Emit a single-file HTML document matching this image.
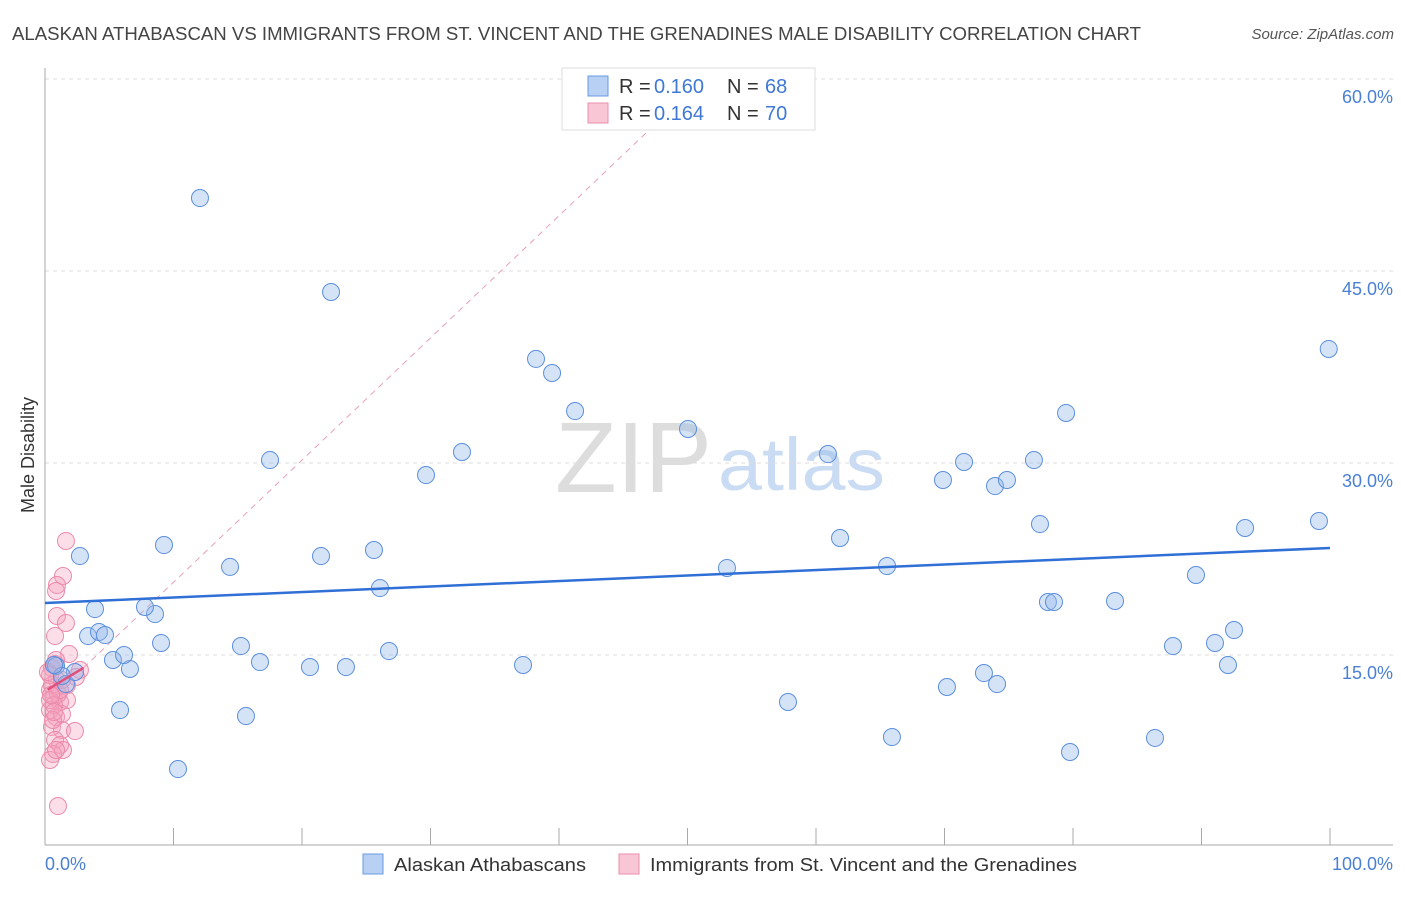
<!DOCTYPE html>
<html><head><meta charset="utf-8"><style>
body{margin:0;background:#fff;font-family:"Liberation Sans",sans-serif}
svg text{font-family:"Liberation Sans",sans-serif}
</style></head><body>
<svg id="chart" width="1406" height="892">
<text x="12" y="40" font-size="18" fill="#444" textLength="1129" lengthAdjust="spacingAndGlyphs">ALASKAN ATHABASCAN VS IMMIGRANTS FROM ST. VINCENT AND THE GRENADINES MALE DISABILITY CORRELATION CHART</text>
<text x="1394" y="39" font-size="15" fill="#555" font-style="italic" text-anchor="end">Source: ZipAtlas.com</text>
<g>
<text x="555" y="492" font-size="100" fill="#ddd" font-family="Liberation Serif" textLength="157" lengthAdjust="spacingAndGlyphs">ZIP</text>
<text x="718" y="490" font-size="74" fill="#c9dcf3" textLength="167" lengthAdjust="spacingAndGlyphs">atlas</text>
</g>
<g id="grid"></g><g id="axes"></g><g id="marks"></g>
<text x="34" y="455" font-size="18" fill="#333" transform="rotate(-90 34 455)" text-anchor="middle">Male Disability</text>
<g>
<rect x="562" y="68" width="253" height="62" fill="#fff" stroke="#ddd"/>
<rect x="588" y="76" width="20" height="20" fill="#b7d0f4" stroke="#6a9ae0"/>
<rect x="588" y="103" width="20" height="20" fill="#f9c6d6" stroke="#ea8fae"/>
<text x="619" y="93" font-size="20" fill="#333">R =</text><text x="654" y="93" font-size="20" fill="#3f78d6">0.160</text>
<text x="727" y="93" font-size="20" fill="#333">N =</text><text x="765" y="93" font-size="20" fill="#3f78d6">68</text>
<text x="619" y="120" font-size="20" fill="#333">R =</text><text x="654" y="120" font-size="20" fill="#3f78d6">0.164</text>
<text x="727" y="120" font-size="20" fill="#333">N =</text><text x="765" y="120" font-size="20" fill="#3f78d6">70</text>
</g>
<g>
<rect x="363" y="854" width="20" height="20" fill="#b7d0f4" stroke="#6a9ae0"/>
<text x="394" y="871" font-size="18" fill="#333" textLength="192" lengthAdjust="spacingAndGlyphs">Alaskan Athabascans</text>
<rect x="619" y="854" width="20" height="20" fill="#f9c6d6" stroke="#ea8fae"/>
<text x="650" y="871" font-size="18" fill="#333" textLength="427" lengthAdjust="spacingAndGlyphs">Immigrants from St. Vincent and the Grenadines</text>
</g>
</svg>
<script>
const blueX=[12.06,22.26,38.21,39.46,41.25,50.04,32.45,17.51,29.65,60.93,71.52,69.88,73.93,74.86,76.96,79.46,99.9,77.43,93.39,99.14,61.87,53.07,65.53,89.57,78.05,78.52,83.27,87.78,91.05,92.53,92.06,73.07,74.09,70.19,57.82,65.91,79.77,86.38,37.2,26.77,23.42,20.62,16.73,15.25,15.64,10.35,5.84,6.61,5.29,6.15,9.03,8.56,7.78,3.89,3.35,4.2,4.67,2.72,9.26,14.4,21.48,25.6,26.07,0.86,1.63,2.33,1.32,0.7];
const blueY=[50.7,43.36,38.13,37.03,34.06,32.66,30.86,30.23,29.06,30.7,30.08,28.67,28.2,28.67,30.23,33.91,38.91,25.23,24.92,25.47,24.14,21.8,21.95,21.25,19.14,19.14,19.22,15.7,15.94,16.95,14.22,13.59,12.73,12.5,11.33,8.59,7.42,8.52,14.22,15.31,14.06,14.06,14.45,15.7,10.23,6.09,10.7,13.91,14.61,15,15.94,18.2,18.75,18.59,16.48,16.8,16.56,22.73,23.59,21.88,22.73,23.2,20.23,14.14,12.73,13.67,13.36,14.22];
const pinkX=[1.63,1.4,0.93,0.86,0.93,1.63,0.78,1.87,2.72,2.41,0.78,0.54,0.93,0.39,0.7,1.17,0.39,0.86,1.32,1.71,0.54,1.32,2.33,0.78,1.17,1.4,0.62,0.39,1.01,0.39,0.54,1.01,0.39,0.7,0.62,0.86,1.32,1.71,0.23,0.86,1.17,0.47,0.7];
const pinkY=[23.91,21.17,20.47,20,18.05,17.5,16.48,15.08,13.83,13.28,14.3,13.98,13.05,12.27,11.72,11.33,10.7,10.16,10.39,11.48,9.38,9.14,9.06,8.36,7.97,7.58,7.27,6.8,3.2,13.44,12.66,11.95,11.48,11.09,9.92,7.58,13.05,12.66,13.67,14.61,12.27,11.88,10.55];
const blueTrend=[[0,19.06],[100,23.36]];
const pinkTrend=[[0.2,12.3],[3,14.0]];
const pinkDash=[[3,14.0],[47,56]];
const yTicks=[15,30,45,60];
const yTickLabels=["15.0%","30.0%","45.0%","60.0%"];
const xTicks=[10,20,30,40,50,60,70,80,90,100];
const NS="http://www.w3.org/2000/svg";
const sx=v=>45+v*12.85, sy=v=>847-v*12.8;
function mk(p,tag,a){const e=document.createElementNS(NS,tag);for(const k in a)e.setAttribute(k,a[k]);p.appendChild(e);return e;}
const grid=document.getElementById('grid'),axes=document.getElementById('axes'),marks=document.getElementById('marks');
yTicks.forEach((t,i)=>{
 const l=mk(grid,'line',{x1:45,x2:1393,y1:sy(t),y2:sy(t),stroke:'#ddd','stroke-dasharray':'4 4'});
 
 
 const tx=mk(axes,'text',{x:1393,y:sy(t)+24,'font-size':18,fill:'#4a7fd4','text-anchor':'end'});tx.textContent=yTickLabels[i];
 
 
});
mk(axes,'line',{x1:45,x2:45,y1:68,y2:845,stroke:'#aaa'});
mk(axes,'line',{x1:45,x2:1393,y1:845,y2:845,stroke:'#aaa'});
xTicks.forEach(t=>{const l=mk(axes,'line',{x1:sx(t),x2:sx(t),y1:828,y2:845,stroke:'#aaa'});
 
 });
let t0=mk(axes,'text',{x:45,y:870,'font-size':18,fill:'#4a7fd4'});t0.textContent='0.0%';


let t1=mk(axes,'text',{x:1393,y:870,'font-size':18,fill:'#4a7fd4','text-anchor':'end'});t1.textContent='100.0%';


const pd=mk(marks,'line',{x1:sx(pinkDash[0][0]),y1:sy(pinkDash[0][1]),x2:sx(pinkDash[1][0]),y2:sy(pinkDash[1][1]),stroke:'#e8a0b8','stroke-dasharray':'6 5','stroke-width':1});


pinkX.forEach((x,i)=>{const c=mk(marks,'circle',{cx:sx(x),cy:sy(pinkY[i]),r:8.5,fill:'rgba(244,160,188,0.35)',stroke:'#ec8aab','stroke-width':1});
 
 });
blueX.forEach((x,i)=>{const c=mk(marks,'circle',{cx:sx(x),cy:sy(blueY[i]),r:8.5,fill:'rgba(150,185,235,0.4)',stroke:'#5b8fdc','stroke-width':1});
 
 });
const bt=mk(marks,'line',{x1:sx(blueTrend[0][0]),y1:sy(blueTrend[0][1]),x2:sx(blueTrend[1][0]),y2:sy(blueTrend[1][1]),stroke:'#2f6fd6','stroke-width':2.5});


const pt=mk(marks,'line',{x1:sx(pinkTrend[0][0]),y1:sy(pinkTrend[0][1]),x2:sx(pinkTrend[1][0]),y2:sy(pinkTrend[1][1]),stroke:'#e0507e','stroke-width':2.5});


</script>
</body></html>
